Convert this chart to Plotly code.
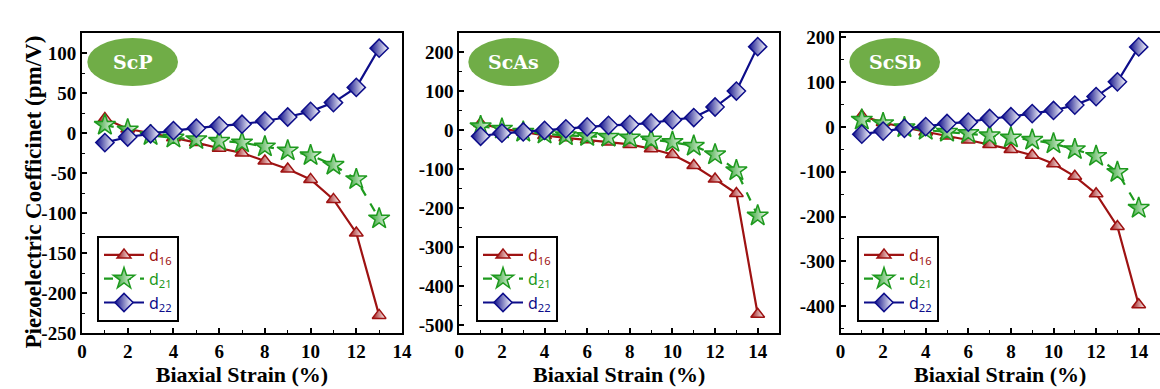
import plotly.graph_objects as go

# ---------------- data ----------------
panels = ["ScP", "ScAs", "ScSb"]

x_scp = [1, 2, 3, 4, 5, 6, 7, 8, 9, 10, 11, 12, 13]
d16_scp = [18, 5, 0, -6, -12, -19, -25, -35, -45, -58, -83, -125, -228]
d21_scp = [10, 4, -3, -6, -8, -10, -12, -17, -22, -28, -40, -58, -107]
d22_scp = [-12, -5, -1, 3, 6, 9, 11, 15, 20, 27, 38, 57, 106]

x_scas = [1, 2, 3, 4, 5, 6, 7, 8, 9, 10, 11, 12, 13, 14]
d16_scas = [18, 4, -4, -13, -19, -24, -30, -36, -47, -62, -90, -125, -162, -472]
d21_scas = [10, 4, -4, -9, -13, -15, -17, -19, -24, -30, -40, -62, -103, -219]
d22_scas = [-15, -7, -4, 0, 4, 9, 13, 15, 19, 27, 33, 60, 101, 215]

x_scsb = [1, 2, 3, 4, 5, 6, 7, 8, 9, 10, 11, 12, 13, 14]
d16_scsb = [25, 10, -1, -11, -20, -29, -39, -50, -63, -82, -110, -149, -222, -397]
d21_scsb = [16, 8, -1, -7, -11, -14, -19, -24, -29, -37, -50, -65, -101, -181]
d22_scsb = [-16, -9, -3, 1, 8, 11, 19, 23, 30, 37, 49, 68, 101, 179]

x_ticks = [0, 2, 4, 6, 8, 10, 12, 14]
y_ticks_scp = [-250, -200, -150, -100, -50, 0, 50, 100]
y_ticks_scas = [-500, -400, -300, -200, -100, 0, 100, 200]
y_ticks_scsb = [-400, -300, -200, -100, 0, 100, 200]

x_ranges = [[0, 14], [0, 15], [0, 15]]
y_ranges = [[-250, 125], [-520, 250], [-460, 210]]
y_minor = [25, 50, 50]

# ---------------- style ----------------
C16 = "#9E1212"
C21 = "#1E9A1E"
C22 = "#0D0D8A"
GREEN_BADGE = "#70AD47"
SERIF = "Liberation Serif"

W, H = 1160, 389
x_px = [(82, 402), (459.3, 779), (840.5, 1160)]
y_px = (33, 333)
legend_px = [97, 476, 857]
badge_px = [(87.3, 178), (468.3, 559.3), (849.3, 940)]
badge_py = (38, 86)

data = [
    (x_scp, d16_scp, d21_scp, d22_scp, y_ticks_scp),
    (x_scas, d16_scas, d21_scas, d22_scas, y_ticks_scas),
    (x_scsb, d16_scsb, d21_scsb, d22_scsb, y_ticks_scsb),
]

fig = go.Figure()
layout_upd = {}

for i, (xs, d16, d21, d22, yt) in enumerate(data):
    n = "" if i == 0 else str(i + 1)
    xa, ya = "x" + n, "y" + n
    leg = "legend" + n
    series = [
        (d16, C16, "solid", "triangle-up", 12, "d<sub>16</sub>"),
        (d21, C21, "dash", "star", 16, "d<sub>21</sub>"),
        (d22, C22, "solid", "diamond", 14, "d<sub>22</sub>"),
    ]
    for ys, col, dash, sym, size, name in series:
        fig.add_trace(go.Scatter(
            x=xs, y=ys, xaxis=xa, yaxis=ya, legend=leg, showlegend=True,
            mode="lines+markers",
            name=f'<span style="color:{col}">{name}</span>',
            line=dict(color=col, width=2.2, dash=dash),
            marker=dict(symbol=sym, size=size, color=col,
                        gradient=dict(type="horizontal", color="white"),
                        line=dict(color=col, width=1.5)),
        ))

    xd = [x_px[i][0] / W, x_px[i][1] / W]
    yd = [1 - y_px[1] / H, 1 - y_px[0] / H]
    layout_upd["xaxis" + n] = dict(
        domain=xd, range=x_ranges[i], anchor=ya,
        tickmode="array", tickvals=x_ticks, ticktext=[f"<b>{v}</b>" for v in x_ticks],
        minor=dict(ticks="inside", ticklen=3, dtick=1, tick0=0, tickcolor="black", tickwidth=1.2),
        title=dict(text="<b>Biaxial Strain (%)</b>",
                   font=dict(family=SERIF, size=22, color="black"),
                   standoff=6),
    )
    layout_upd["yaxis" + n] = dict(
        domain=yd, range=y_ranges[i], anchor=xa,
        tickmode="array", tickvals=yt, ticktext=[f"<b>{v}</b>" for v in yt],
        minor=dict(ticks="inside", ticklen=3, dtick=y_minor[i], tick0=0, tickcolor="black", tickwidth=1.2),
    )
    layout_upd[leg] = dict(
        x=legend_px[i] / W, y=1 - 236 / H, xanchor="left", yanchor="top",
        xref="paper", yref="paper",
        bgcolor="white", bordercolor="black", borderwidth=2,
        font=dict(family="Noto Sans", size=16),
        itemwidth=40, tracegroupgap=2,
    )
    bx0, bx1 = badge_px[i]
    fig.add_shape(type="circle", xref="paper", yref="paper",
                  x0=bx0 / W, x1=bx1 / W, y0=1 - badge_py[1] / H, y1=1 - badge_py[0] / H,
                  fillcolor=GREEN_BADGE, line=dict(width=0), layer="below")
    fig.add_annotation(xref="paper", yref="paper",
                       x=(bx0 + bx1) / 2 / W, y=1 - (badge_py[0] + badge_py[1]) / 2 / H,
                       xanchor="center", yanchor="middle",
                       text=f"<b>{panels[i]}</b>", showarrow=False,
                       font=dict(family="DejaVu Serif", size=19, color="white"))

fig.update_layout(
    width=W, height=H,
    margin=dict(l=0, r=0, t=0, b=0, autoexpand=False),
    paper_bgcolor="white", plot_bgcolor="white",
    showlegend=True,
    font=dict(family=SERIF, color="black"),
    **layout_upd,
)
axis_common = dict(showline=True, linecolor="black", linewidth=2, mirror=True,
                   ticks="inside", ticklen=5, tickwidth=1.5, tickcolor="black",
                   showgrid=False, zeroline=False, automargin=False,
                   tickfont=dict(family=SERIF, size=19, color="black"))
fig.update_xaxes(**axis_common)
fig.update_yaxes(**axis_common)

fig.add_annotation(xref="paper", yref="paper", x=18 / W, y=1 - 192 / H,
                   text="<b>Piezoelectric Coefficinet (pm/V)</b>", textangle=-90,
                   showarrow=False,
                   font=dict(family=SERIF, size=23, color="black"))

fig.write_html("out.html")
